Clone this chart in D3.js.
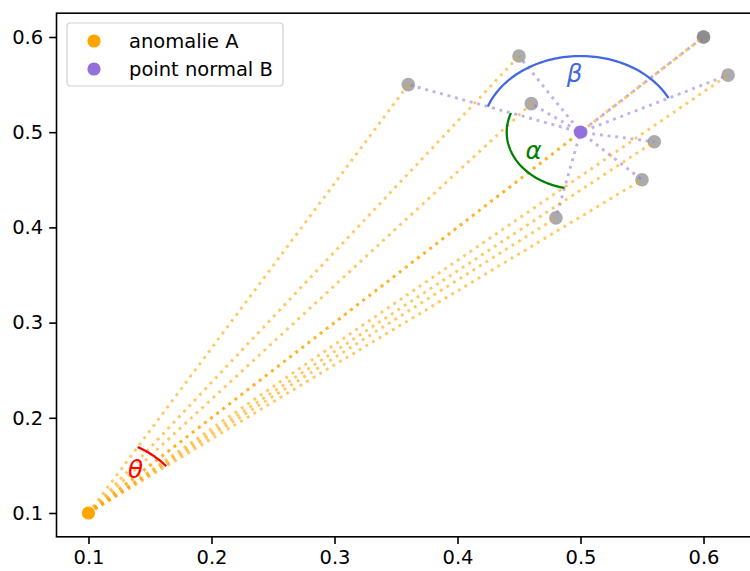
<!DOCTYPE html>
<html><head><meta charset="utf-8">
<script src="https://cdn.jsdelivr.net/npm/d3@7"></script>
<style>body{margin:0;background:#fff}svg{display:block}text{font-family:"DejaVu Sans",sans-serif}</style>
</head><body><svg id="c" width="750" height="571"></svg>
<script>
// ---- data ----
const pointA = [0.1, 0.1];           // anomalie A
const pointB = [0.5, 0.5];           // point normal B
const neighborsX = [0.36, 0.45, 0.46, 0.48, 0.55, 0.56, 0.60, 0.62];
const neighborsY = [0.55, 0.58, 0.53, 0.41, 0.45, 0.49, 0.60, 0.56];
const pointC = [0.6, 0.6];            // far point aligned with A and B
const xTicks = [0.1, 0.2, 0.3, 0.4, 0.5, 0.6];
const yTicks = [0.1, 0.2, 0.3, 0.4, 0.5, 0.6];
const legendLabels = ["anomalie A", "point normal B"];
const arcLabels = ["β", "α", "θ"];
const arcLabelX = [0.4951, 0.4618, 0.1382];
const arcLabelY = [0.5527, 0.4718, 0.1368];
const arcRadius = [0.08, 0.06, 0.08];

const svg = d3.select("#c");
const x = d3.scaleLinear().domain([0.074, 0.646]).range([56.5, 760.1]);
const y = d3.scaleLinear().domain([0.075, 0.625]).range([536.8, 13.2]);
const neighbors = neighborsX.map((v, i) => [v, neighborsY[i]]);

const plot = svg.append("g");
// gray points
plot.selectAll("circle.n").data(neighbors.concat([pointC])).join("circle")
  .attr("cx", d => x(d[0])).attr("cy", d => y(d[1])).attr("r", 6.8)
  .attr("fill", "gray").attr("fill-opacity", 0.66);

const dot = "2.9,4.8";
// purple lines B -> each neighbor
plot.selectAll("line.b").data(neighbors).join("line")
  .attr("x1", x(pointB[0])).attr("y1", y(pointB[1]))
  .attr("x2", d => x(d[0])).attr("y2", d => y(d[1]))
  .attr("stroke", "mediumpurple").attr("stroke-opacity", 0.55)
  .attr("stroke-width", 2.9).attr("stroke-dasharray", dot).attr("stroke-dashoffset", 3.5);
// orange lines A -> each neighbor, and A -> B
plot.selectAll("line.a").data(neighbors.concat([pointB])).join("line")
  .attr("x1", x(pointA[0])).attr("y1", y(pointA[1]))
  .attr("x2", d => x(d[0])).attr("y2", d => y(d[1]))
  .attr("stroke", "orange").attr("stroke-opacity", 0.6)
  .attr("stroke-width", 2.9).attr("stroke-dasharray", dot);

// arcs
const ang = (c, p) => Math.atan2(p[1] - c[1], p[0] - c[0]);
function arcPath(c, r, a0, a1) {
  const n = 80, pts = [];
  for (let i = 0; i <= n; i++) {
    const t = a0 + (a1 - a0) * i / n;
    pts.push([x(c[0] + r * Math.cos(t)), y(c[1] + r * Math.sin(t))]);
  }
  return d3.line()(pts);
}
const nbRight = neighbors[7], nbLeft = neighbors[0], nbLow = neighbors[3];
let aLow = ang(pointB, nbLow); if (aLow < 0) aLow += 2 * Math.PI;
const thetaAngles = neighbors.map(p => ang(pointA, p));
const arcs = [
  {c: pointB, r: arcRadius[0], a0: ang(pointB, nbRight), a1: ang(pointB, nbLeft), col: "royalblue"},
  {c: pointB, r: arcRadius[1], a0: ang(pointB, nbLeft), a1: aLow, col: "green"},
  {c: pointA, r: arcRadius[2], a0: d3.min(thetaAngles), a1: d3.max(thetaAngles), col: "red"}
];
plot.selectAll("path.arc").data(arcs).join("path")
  .attr("d", d => arcPath(d.c, d.r, d.a0, d.a1))
  .attr("fill", "none").attr("stroke", d => d.col).attr("stroke-width", 2.3);
plot.selectAll("text.al").data(arcLabels).join("text")
  .attr("x", (d, i) => x(arcLabelX[i])).attr("y", (d, i) => y(arcLabelY[i]))
  .attr("text-anchor", "middle").attr("font-style", "italic").attr("font-size", 24.5)
  .attr("fill", (d, i) => arcs[i].col).text(d => d);

// A and B markers
plot.append("circle").attr("cx", x(pointA[0])).attr("cy", y(pointA[1])).attr("r", 6.6).attr("fill", "orange");
plot.append("circle").attr("cx", x(pointB[0])).attr("cy", y(pointB[1])).attr("r", 6.6).attr("fill", "mediumpurple");

// axes
const xa = svg.append("g").attr("transform", "translate(0,536.8)")
  .call(d3.axisBottom(x).tickValues(xTicks).tickFormat(d3.format(".1f")).tickSize(7.3).tickPadding(6));
const ya = svg.append("g").attr("transform", "translate(56.5,0)")
  .call(d3.axisLeft(y).tickValues(yTicks).tickFormat(d3.format(".1f")).tickSize(7.3).tickPadding(6));
[xa, ya].forEach(a => {
  a.select(".domain").remove();
  a.selectAll(".tick line").attr("stroke", "#000").attr("stroke-width", 1.6);
  a.selectAll(".tick text").attr("font-size", 19.5).attr("fill", "#000").attr("font-family", "DejaVu Sans");
});
// spines
svg.append("rect").attr("x", 56.5).attr("y", 13.2).attr("width", 760.1 - 56.5).attr("height", 536.8 - 13.2)
  .attr("fill", "none").attr("stroke", "#000").attr("stroke-width", 1.6);

// legend
const lg = svg.append("g");
lg.append("rect").attr("x", 67).attr("y", 23).attr("width", 216).attr("height", 63).attr("rx", 3.5)
  .attr("fill", "#fff").attr("fill-opacity", 0.8).attr("stroke", "#d0d0d0").attr("stroke-width", 1.2);
const legColors = ["orange", "mediumpurple"];
legendLabels.forEach((t, i) => {
  lg.append("circle").attr("cx", 94).attr("cy", 41 + i * 28).attr("r", 6.6).attr("fill", legColors[i]);
  lg.append("text").attr("x", 129).attr("y", 48 + i * 28).attr("font-size", 19.5).attr("fill", "#000").text(t);
});
</script></body></html>
